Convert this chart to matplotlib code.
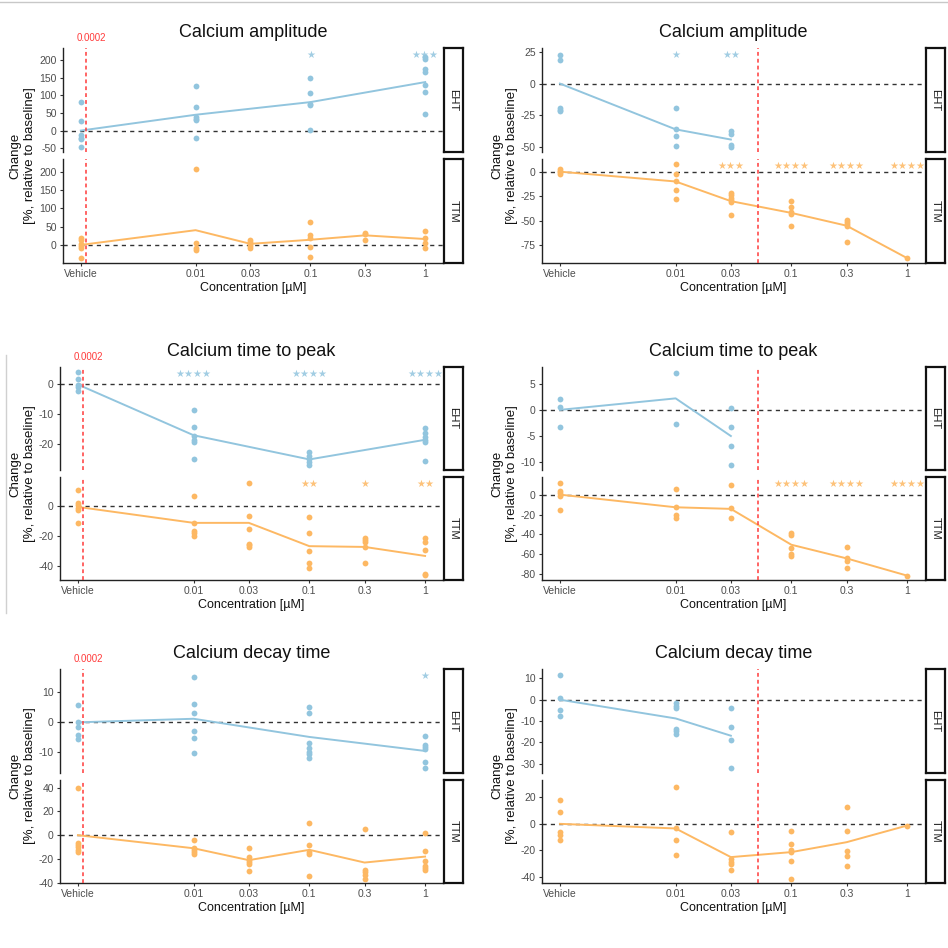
import numpy as np
import matplotlib
matplotlib.use("Agg")
import matplotlib.pyplot as plt
from matplotlib.lines import Line2D
import matplotlib.transforms as mtransforms

plt.rcParams['font.family'] = ['Liberation Sans', 'DejaVu Sans']
plt.rcParams['axes.unicode_minus'] = False

W, H = 948, 948
nan = np.nan

conc_labels = ["Vehicle", "0.01", "0.03", "0.1", "0.3", "1"]
conc_values = [0.001, 0.01, 0.03, 0.1, 0.3, 1]   # vehicle drawn one decade below 0.01

BLUE = "#92c5de"
ORANGE = "#fdb863"

# ---- Calcium amplitude (left) ----
amp_l_eht_pts = [[81, 27, -14, -20, -25, -47], [126, 66, 39, 34, 31, -21], [],
                 [151, 107, 77, 73, 3], [], [210, 205, 175, 166, 129, 110, 46]]
amp_l_eht_line = [0, 45, nan, 81, nan, 138]
amp_l_eht_stars = [0, 0, 0, 1, 0, 3]
amp_l_ttm_pts = [[20, 15, 4, -3, -7, -34], [207, 7, -7, -12], [14, 9, 4, -1, -6],
                 [62, 28, 19, -4, -33], [34, 30, 14], [40, 19, 6, -8]]
amp_l_ttm_line = [1, 41, 4, 15, 27, 17]
amp_l_ttm_stars = [0, 0, 0, 0, 0, 0]

# ---- Calcium amplitude (right) ----
amp_r_eht_pts = [[22.6, 18.4, -19, -20.5, -21.5], [-19, -36, -41, -49],
                 [-37.5, -39.4, -48.5, -50], [], [], []]
amp_r_eht_line = [0, -36, -44, nan, nan, nan]
amp_r_eht_stars = [0, 1, 2, 0, 0, 0]
amp_r_ttm_pts = [[2.7, 1, -0.7, -2], [8, -2.4, -9.5, -19, -28], [-21.7, -24, -27, -29, -31, -44],
                 [-29.5, -35.6, -41, -43, -55], [-49, -51, -53, -55, -72], [-88]]
amp_r_ttm_line = [0, -10, -30, -42, -55, -88]
amp_r_ttm_stars = [0, 0, 3, 4, 4, 4]

# ---- Calcium time to peak (left) ----
ttp_l_eht_pts = [[4, 1.5, -0.5, -1, -2.5], [-8.7, -14.4, -17.1, -18.5, -19.3, -25], [],
                 [-22.7, -24, -25, -26, -27], [], [-14.7, -16.2, -17.7, -18.6, -19.1, -25.5]]
ttp_l_eht_line = [-0.2, -17, nan, -25, nan, -18.5]
ttp_l_eht_stars = [0, 4, 0, 4, 0, 4]
ttp_l_ttm_pts = [[10.6, 2.2, 0.7, -0.9, -2.2, -10.8], [7, -10.8, -16.6, -18, -19.5],
                 [15.3, -6.6, -14.8, -25, -26, -27], [-6.9, -18, -30, -38, -41],
                 [-20.8, -22.6, -24, -27, -37.6], [-20.8, -24, -29, -44.7, -46]]
ttp_l_ttm_line = [-0.4, -11, -11, -26.5, -27, -33]
ttp_l_ttm_stars = [0, 0, 0, 2, 1, 2]

# ---- Calcium time to peak (right) ----
ttp_r_eht_pts = [[2, 0.6, -3.2], [7, -2.7], [0.4, -3.2, -7, -10.6], [], [], []]
ttp_r_eht_line = [0, 2.2, -5, nan, nan, nan]
ttp_r_eht_stars = [0, 0, 0, 0, 0, 0]
ttp_r_ttm_pts = [[12, 4, 2, -1, -15.7], [5.7, -12.3, -20.7, -23], [9.7, -13, -23],
                 [-38.3, -40.3, -53.7, -60, -61.7], [-52.7, -64, -66.3, -73.3], [-81.3]]
ttp_r_ttm_line = [0, -12.7, -14.3, -50.3, -64, -81.3]
ttp_r_ttm_stars = [0, 0, 0, 4, 4, 4]

# ---- Calcium decay time (left) ----
dec_l_eht_pts = [[5.7, 0.1, -1.5, -4.4, -5.7], [15.2, 6.1, 3, -2.9, -5.4, -10.3], [],
                 [4.9, 3, -7, -8.7, -10, -10.8, -12], [], [-4.6, -7.6, -8.3, -9, -13.5, -15.5]]
dec_l_eht_line = [-0.1, 1.1, nan, -5, nan, -9.7]
dec_l_eht_stars = [0, 0, 0, 0, 0, 1]
dec_l_ttm_pts = [[40, -6.4, -8, -10, -12.3, -14.5], [-4, -10.6, -12.3, -14.2, -16],
                 [-10.6, -18.4, -20.6, -22.6, -24.3, -30], [10.6, -8.4, -14, -15.4, -34.6],
                 [5.3, -29.6, -31.3, -33.2, -36.6], [1.7, -13.1, -21.8, -25.7, -27.7, -29]]
dec_l_ttm_line = [0, -11, -21, -12.3, -23, -18]
dec_l_ttm_stars = [0, 0, 0, 0, 0, 0]

# ---- Calcium decay time (right) ----
dec_r_eht_pts = [[11.6, 0.8, -4.7, -7.8], [-1.6, -2.8, -3.9, -13.8, -14.8, -15.9],
                 [-3.8, -12.8, -18.8, -32], [], [], []]
dec_r_eht_line = [0, -8.8, -16.9, nan, nan, nan]
dec_r_eht_stars = [0, 0, 0, 0, 0, 0]
dec_r_ttm_pts = [[17.9, 8.6, -5.8, -8.6, -12.6], [28, -3.5, -12.6, -23.7],
                 [-6.5, -26.7, -28.7, -30.7, -34.8], [-5.5, -15.6, -19.6, -21.2, -28.2, -41.6],
                 [12.6, -5.3, -20.2, -24.4, -32.2], [-1.3]]
dec_r_ttm_line = [0, -3.5, -25.2, -21.4, -13.9, -1.3]
dec_r_ttm_stars = [0, 0, 0, 0, 0, 0]

# y limits and ticks for each facet
ylims = {
    "amp_l": ((-61, 235), (-48, 234)), "amp_r": ((-53.8, 28), (-93, 12.9)),
    "ttp_l": ((-28.5, 5.6), (-49, 19.5)), "ttp_r": ((-11.5, 8.2), (-85.7, 17.7)),
    "dec_l": ((-17.1, 17.8), (-40.2, 46.4)), "dec_r": ((-34.4, 14.4), (-44.8, 33.2)),
}
yticks = {
    "amp_l": ([-50, 0, 50, 100, 150, 200], [0, 50, 100, 150, 200]),
    "amp_r": ([-50, -25, 0, 25], [-75, -50, -25, 0]),
    "ttp_l": ([-20, -10, 0], [-40, -20, 0]),
    "ttp_r": ([-10, -5, 0, 5], [-80, -60, -40, -20, 0]),
    "dec_l": ([-10, 0, 10], [-40, -20, 0, 20, 40]),
    "dec_r": ([-30, -20, -10, 0, 10], [-40, -20, 0, 20]),
}
ic50_left = 0.0011
ic50_right = 0.051
ic50_label = "0.0002"

fig = plt.figure(figsize=(W / 100, H / 100), dpi=100)


def box(l, t, r, b):
    return [l / W, 1 - b / H, (r - l) / W, (b - t) / H]


def facet(rect, strip_rect, pts, line, stars, color, lim, ticks, label, bottom, red_x):
    ax = fig.add_axes(box(*rect))
    ax.set_xscale("log")
    ax.set_xlim(10 ** -3.155, 10 ** 0.155)
    ax.set_ylim(*lim)
    for sp in ["top", "right"]:
        ax.spines[sp].set_visible(False)
    ax.spines["left"].set_color("#222222")
    ax.spines["left"].set_linewidth(1.0)
    if bottom:
        ax.spines["bottom"].set_color("#222222")
        ax.spines["bottom"].set_linewidth(1.0)
        ax.set_xticks(conc_values)
        ax.set_xticklabels(conc_labels)
    else:
        ax.spines["bottom"].set_visible(False)
        ax.set_xticks([])
    ax.xaxis.set_minor_locator(matplotlib.ticker.NullLocator())
    ax.set_yticks(ticks)
    ax.tick_params(axis="both", length=2.5, width=0.8, color="#333333",
                   labelsize=7.5, labelcolor="#4d4d4d", pad=2)
    ax.axhline(0, color="#333333", lw=1.0, ls=(0, (3, 3)), zorder=1)
    ax.axvline(red_x, color="#ff3b3b", lw=1.1, ls=(0, (2.5, 2)), zorder=4)
    for x, vals in zip(conc_values, pts):
        if vals:
            ax.plot([x] * len(vals), vals, "o", color=color, ms=4.2, mew=0, zorder=3)
    lv = np.array(line, dtype=float)
    xv = np.array(conc_values)
    ok = ~np.isnan(lv)
    ax.plot(xv[ok], lv[ok], color=color, lw=1.4, zorder=2)
    trans = mtransforms.blended_transform_factory(ax.transData, ax.transAxes)
    for x, n in zip(conc_values, stars):
        if n:
            ax.text(x, 0.93, "\u2605" * n, transform=trans, ha="center", va="center",
                    fontsize=7.2, color=color, alpha=0.85, family="DejaVu Sans")
    sax = fig.add_axes(box(*strip_rect))
    sax.set_xticks([])
    sax.set_yticks([])
    for sp in sax.spines.values():
        sp.set_linewidth(1.6)
        sp.set_color("#111111")
    sax.text(0.5, 0.5, label, rotation=270, ha="center", va="center",
             fontsize=8, color="#1a1a1a", transform=sax.transAxes)
    return ax


panels = [
    ("amp_l", "Calcium amplitude", 63, 443, (48, 152, 159, 263), ic50_left, True,
     (amp_l_eht_pts, amp_l_eht_line, amp_l_eht_stars), (amp_l_ttm_pts, amp_l_ttm_line, amp_l_ttm_stars)),
    ("amp_r", "Calcium amplitude", 542, 925, (48, 152, 159, 263), ic50_right, False,
     (amp_r_eht_pts, amp_r_eht_line, amp_r_eht_stars), (amp_r_ttm_pts, amp_r_ttm_line, amp_r_ttm_stars)),
    ("ttp_l", "Calcium time to peak", 60, 443, (367, 470, 477, 580), ic50_left, True,
     (ttp_l_eht_pts, ttp_l_eht_line, ttp_l_eht_stars), (ttp_l_ttm_pts, ttp_l_ttm_line, ttp_l_ttm_stars)),
    ("ttp_r", "Calcium time to peak", 542, 925, (367, 470, 477, 580), ic50_right, False,
     (ttp_r_eht_pts, ttp_r_eht_line, ttp_r_eht_stars), (ttp_r_ttm_pts, ttp_r_ttm_line, ttp_r_ttm_stars)),
    ("dec_l", "Calcium decay time", 60, 443, (669, 773, 780, 883), ic50_left, True,
     (dec_l_eht_pts, dec_l_eht_line, dec_l_eht_stars), (dec_l_ttm_pts, dec_l_ttm_line, dec_l_ttm_stars)),
    ("dec_r", "Calcium decay time", 542, 925, (669, 773, 780, 883), ic50_right, False,
     (dec_r_eht_pts, dec_r_eht_line, dec_r_eht_stars), (dec_r_ttm_pts, dec_r_ttm_line, dec_r_ttm_stars)),
]

for key, title, L, R, (t1, b1, t2, b2), red_x, show_label, eht, ttm in panels:
    ax_top = facet((L, t1, R, b1), (R + 1, t1, R + 20, b1), *eht, BLUE,
                   ylims[key][0], yticks[key][0], "EHT", False, red_x)
    ax_bot = facet((L, t2, R, b2), (R + 1, t2, R + 20, b2), *ttm, ORANGE,
                   ylims[key][1], yticks[key][1], "TTM", True, red_x)
    ax_top.set_title(title, fontsize=13, pad=8, color="#111111")
    ax_bot.set_xlabel("Concentration [\u00b5M]", fontsize=9, labelpad=2, color="#111111")
    if show_label:
        ax_top.annotate(ic50_label, xy=(red_x, 1.0),
                        xycoords=mtransforms.blended_transform_factory(ax_top.transData, ax_top.transAxes),
                        xytext=(4, 7), textcoords="offset points", ha="center", va="center",
                        fontsize=7, color="#ff3b3b")
    ycen = (t1 + b2) / 2
    xlab = 23 if L < 474 else 505
    fig.text(xlab / W, 1 - ycen / H, "Change\n[%, relative to baseline]", rotation=90,
             ha="center", va="center", fontsize=9.5, color="#111111", linespacing=1.25)

# faint screenshot borders
fig.add_artist(Line2D([0, 1], [1 - 2 / H, 1 - 2 / H], color="#c8c8c8", lw=1))
fig.add_artist(Line2D([6 / W, 6 / W], [1 - 355 / H, 1 - 613 / H], color="#d0d0d0", lw=1))

fig.savefig("out.png", dpi=100)
